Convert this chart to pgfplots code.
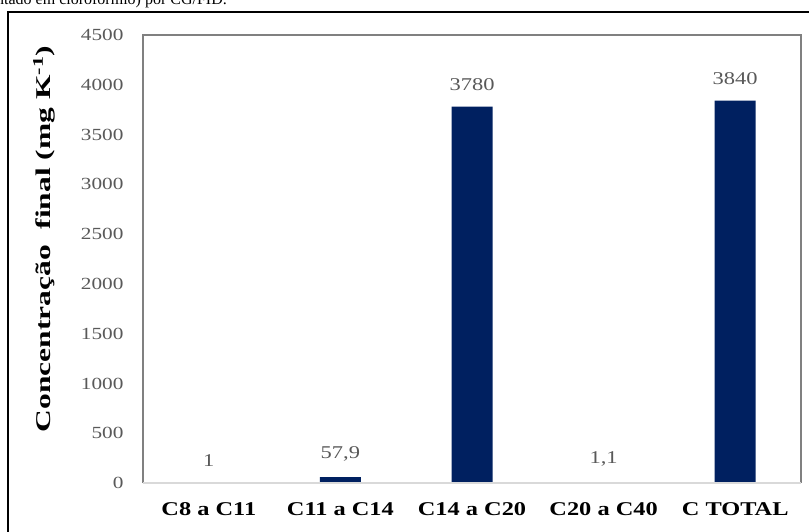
\documentclass[border=0pt]{standalone}
\usepackage{pgfplots}
\pgfplotsset{compat=1.18}
\usepackage{fontspec}
\setmainfont{Liberation Serif}[FakeStretch=1.25]
\newfontfamily\plainserif{Liberation Serif}
\definecolor{navy}{HTML}{002060}
\definecolor{tickgray}{HTML}{595959}
\definecolor{framegray}{HTML}{808080}
\definecolor{basegray}{HTML}{D9D9D9}
\begin{document}
\begin{tikzpicture}[x=1pt,y=1pt]
\useasboundingbox (0,0) rectangle (809,531);
% partial caption cut at the top
\node[anchor=base east, inner sep=0, font=\plainserif\fontsize{16}{16}\selectfont] at (227,526) {ntado em clorofórmio) por CG/FID.};
% outer frame
\draw[line width=1.5pt] (820,519) -- (8,519) -- (8,-10);
\begin{axis}[
  at={(143pt,48pt)}, anchor=south west,
  width=658pt, height=448pt, scale only axis,
  xmin=-0.5, xmax=4.5, ymin=0, ymax=4500,
  ytick={0,500,1000,1500,2000,2500,3000,3500,4000,4500},
  xtick={0,1,2,3,4},
  xticklabels={C8 a C11, C11 a C14, C14 a C20, C20 a C40, C TOTAL},
  major tick length=0pt,
  axis line style={draw=none},
  /pgf/number format/assume math mode=true,
  /pgf/number format/1000 sep={},
  yticklabel style={font=\fontsize{17}{17}\selectfont, text=tickgray, xshift=-16pt},
  xticklabel style={font=\bfseries\fontsize{19.5}{19.5}\selectfont, text=black, yshift=-16pt},
  ybar, bar width=41pt,
  point meta=explicit symbolic,
  nodes near coords,
  every node near coord/.append style={font=\fontsize{18}{18}\selectfont, text=tickgray, anchor=south, inner sep=0pt, yshift=16pt},
  clip=false,
]
\addplot[fill=navy, draw=none] table[meta=label] {
x y label
0 1 1
1 57.9 {57,9}
2 3780 3780
3 1.1 {1,1}
4 3840 3840
};
\draw[framegray, line width=1.2pt] (rel axis cs:0,0) -- (rel axis cs:0,1) -- (rel axis cs:1,1) -- (rel axis cs:1,0);
\draw[basegray, line width=1.2pt] (rel axis cs:0,0) -- (rel axis cs:1,0);
\end{axis}
\node[rotate=90, font=\bfseries\fontsize{21}{21}\selectfont] at (44,292) {\scalebox{1.2}[1]{Concentração\ \ final (mg K\textsuperscript{-1})}};
\end{tikzpicture}
\end{document}
